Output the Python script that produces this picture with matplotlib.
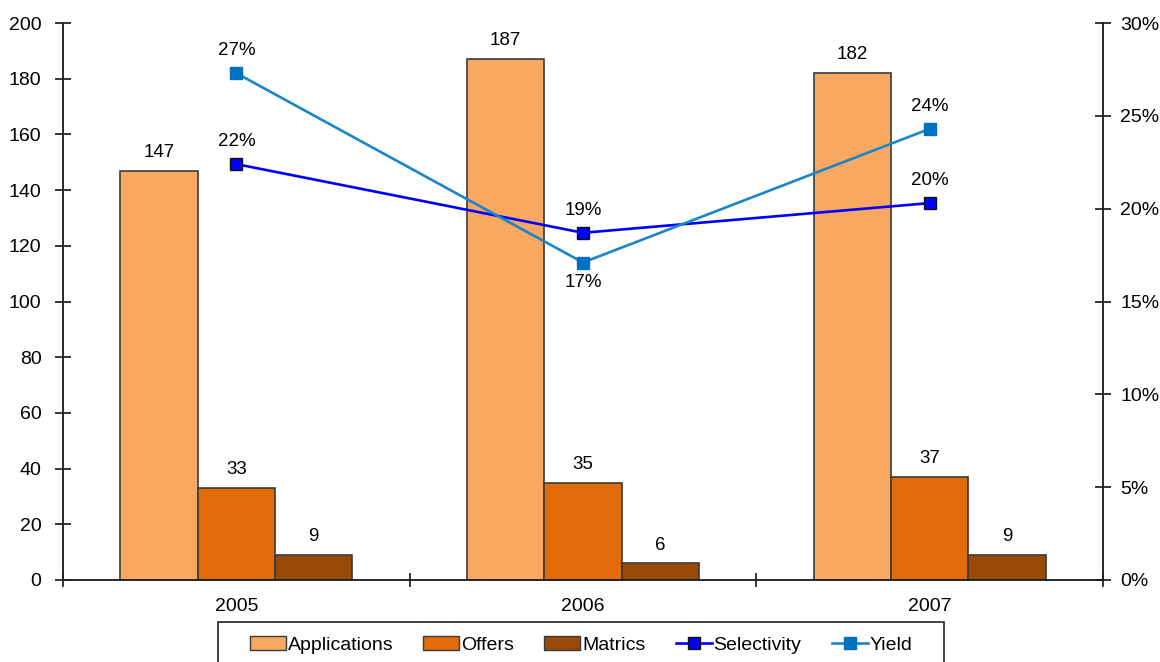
import matplotlib
matplotlib.use("Agg")
import matplotlib.pyplot as plt
import numpy as np
from matplotlib.patches import Rectangle
from matplotlib.lines import Line2D
from matplotlib.patches import Patch

plt.rcParams['font.family'] = ['Liberation Sans', 'DejaVu Sans']

years = ["2005", "2006", "2007"]
applications = [147, 187, 182]
offers = [33, 35, 37]
matrics = [9, 6, 9]
selectivity = [22.4, 18.7, 20.3]   # percent
yield_pct = [27.3, 17.1, 24.3]     # percent
sel_labels = ["22%", "19%", "20%"]
yld_labels = ["27%", "17%", "24%"]

c_app = "#F9A862"
c_off = "#E36C0A"
c_mat = "#984807"
c_sel = "#0000FF"
c_yld = "#0070C0"

W, H = 1160, 662
fig = plt.figure(figsize=(W / 100, H / 100), dpi=100)
ax = fig.add_axes([63 / W, 1 - 580 / H, (1103 - 63) / W, (580 - 23) / H])
ax2 = ax.twinx()

x = np.arange(len(years))
bw = 0.223
edge = "#3a3a3a"
b1 = ax.bar(x - bw, applications, bw, color=c_app, edgecolor=edge, linewidth=1.2)
b2 = ax.bar(x, offers, bw, color=c_off, edgecolor=edge, linewidth=1.2)
b3 = ax.bar(x + bw, matrics, bw, color=c_mat, edgecolor=edge, linewidth=1.2)

fs = 13.5
tfs = 14
for bars, vals in ((b1, applications), (b2, offers), (b3, matrics)):
    for r, v in zip(bars, vals):
        ax.annotate(str(v), (r.get_x() + r.get_width() / 2, v), xytext=(0, 7),
                    textcoords="offset points", ha="center", va="bottom", fontsize=fs)

ax.set_xlim(-0.5, 2.5)
ax.set_ylim(0, 200)
ax.set_yticks(np.arange(0, 201, 20))
ax.set_xticks(x)
ax.set_xticklabels(years)
ax.set_xticks([-0.5, 0.5, 1.5, 2.5], minor=True)
ax.tick_params(axis="x", which="major", length=0, pad=13, labelsize=tfs)
ax.tick_params(axis="x", which="minor", length=10, direction="inout", width=1.1)
ax.tick_params(axis="y", length=11, direction="inout", width=1.1, pad=10, labelsize=tfs)

ax2.plot(x, selectivity, color=c_sel, lw=1.9, marker="s", markersize=9,
         markerfacecolor=c_sel, markeredgecolor="#111111", markeredgewidth=1.0, zorder=3)
ax2.plot(x, yield_pct, color="#1A86C8", lw=1.9, marker="s", markersize=9,
         markerfacecolor=c_yld, markeredgecolor=c_yld, zorder=3)
ax2.set_ylim(0, 30)
ax2.set_yticks(np.arange(0, 31, 5))
ax2.set_yticklabels([f"{v}%" for v in range(0, 31, 5)])
ax2.tick_params(axis="y", length=11, direction="inout", width=1.1, pad=7, labelsize=tfs)

for xi, v, lab in zip(x, selectivity, sel_labels):
    ax2.annotate(lab, (xi, v), xytext=(0, 10), textcoords="offset points",
                 ha="center", va="bottom", fontsize=fs)
for xi, v, lab in zip(x, yield_pct, yld_labels):
    if lab == "17%":
        ax2.annotate(lab, (xi, v), xytext=(0, -8), textcoords="offset points",
                     ha="center", va="top", fontsize=fs)
    else:
        ax2.annotate(lab, (xi, v), xytext=(0, 10), textcoords="offset points",
                     ha="center", va="bottom", fontsize=fs)

for a in (ax, ax2):
    a.spines["top"].set_visible(False)
    for s in ("left", "right", "bottom"):
        a.spines[s].set_linewidth(1.1)
        a.spines[s].set_color("#222222")

handles = [
    Patch(facecolor=c_app, edgecolor=edge, label="Applications"),
    Patch(facecolor=c_off, edgecolor=edge, label="Offers"),
    Patch(facecolor=c_mat, edgecolor=edge, label="Matrics"),
    Line2D([], [], color=c_sel, lw=1.9, marker="s", markersize=9,
           markerfacecolor=c_sel, markeredgecolor="#111111", label="Selectivity"),
    Line2D([], [], color="#1A86C8", lw=1.9, marker="s", markersize=9,
           markerfacecolor=c_yld, markeredgecolor=c_yld, label="Yield"),
]
fig.legend(handles=handles, loc="center", bbox_to_anchor=(581 / W, 1 - 645 / H),
           ncol=5, frameon=False, fontsize=14, handlelength=1.85, handletextpad=0.1,
           columnspacing=1.55, borderpad=0)
fig.patches.append(Rectangle((218 / W, -0.05), (944 - 218) / W, 0.05 + (662 - 622) / H,
                             transform=fig.transFigure, fill=False, edgecolor="#222222",
                             linewidth=1.2))

fig.savefig("out.png", dpi=100)
